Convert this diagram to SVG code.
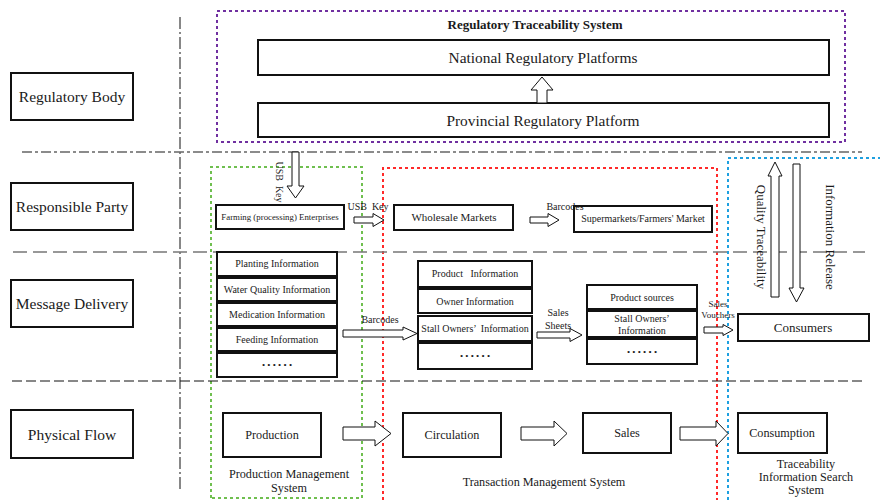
<svg xmlns="http://www.w3.org/2000/svg" width="880" height="500" viewBox="0 0 880 500" font-family="'Liberation Serif', 'DejaVu Serif', serif">
<style>
text{font-family:'Liberation Serif','DejaVu Serif',serif;fill:#1a1a1a;text-anchor:middle;white-space:pre}
.box{fill:#fff;stroke:#111;stroke-width:2}
.arr{fill:#fff;stroke:#111;stroke-width:1}
.lbl{font-size:15.5px}
.s9{font-size:9px}.s10{font-size:10px}.s11{font-size:11px}.s12{font-size:12.2px}.s13{font-size:13px}.s15{font-size:15.4px}
</style>
<rect width="880" height="500" fill="#fff"/>
<g id="containers" fill="none">
<rect x="217" y="11" width="628" height="131" stroke="#7030A0" stroke-width="2" stroke-dasharray="3,3"/>
<path d="M211 498V167H362V498Z" stroke="#6fbf4f" stroke-width="2" stroke-dasharray="3,3"/>
<path d="M383 500V168H717V500" stroke="#ff2a2a" stroke-width="2" stroke-dasharray="3,3"/>
<path d="M728 500V158H880" stroke="#1ea0e0" stroke-width="2" stroke-dasharray="3,3"/>
</g>
<g id="dividers" fill="none">
<line x1="180" y1="17" x2="180" y2="490" stroke="#111" stroke-width="1" stroke-dasharray="12,3,2,3"/>
<line x1="22" y1="152" x2="862" y2="152" stroke="#666" stroke-width="1.5" stroke-dasharray="10,3,3,3"/>
<line x1="13" y1="252" x2="865" y2="252" stroke="#777" stroke-width="1.5" stroke-dasharray="14,6"/>
<line x1="12" y1="381" x2="865" y2="381" stroke="#111" stroke-width="1" stroke-dasharray="10,4"/>
</g>
<g id="row-regulatory"><rect class="box" x="11" y="73" width="122" height="47"/><text class="lbl" x="72" y="102">Regulatory Body</text></g>
<g id="row-responsible"><rect class="box" x="11" y="183" width="122" height="47"/><text class="lbl" x="72" y="212">Responsible Party</text></g>
<g id="row-message"><rect class="box" x="11" y="280" width="122" height="47"/><text class="lbl" x="72" y="309">Message Delivery</text></g>
<g id="row-physical"><rect class="box" x="11" y="410" width="122" height="48"/><text class="lbl" x="72" y="440">Physical Flow</text></g>
<text x="535" y="29" style="font-size:13px;font-weight:bold">Regulatory Traceability System</text>
<g id="national"><rect class="box" x="258" y="40" width="571" height="35"/><text class="s15" x="543" y="63">National Regulatory Platforms</text></g>
<g id="provincial"><rect class="box" x="258" y="103" width="571" height="34"/><text class="s15" x="543" y="126">Provincial Regulatory Platform</text></g>
<g id="farming"><rect class="box" x="216" y="205" width="128" height="24"/><text x="280" y="220" style="font-size:8.8px">Farming (processing) Enterprises</text></g>
<g id="wholesale"><rect class="box" x="394" y="205" width="119" height="25"/><text class="s11" x="454" y="221">Wholesale Markets</text></g>
<g id="supermarkets"><rect class="box" x="574" y="206" width="138" height="26"/><text class="s10" x="643" y="222">Supermarkets/Farmers' Market</text></g>
<g id="production-info">
<rect class="box" x="217" y="252" width="120" height="24"/><text class="s10" x="277" y="267">Planting Information</text>
<rect class="box" x="217" y="278" width="120" height="23"/><text class="s10" x="277" y="293">Water Quality Information</text>
<rect class="box" x="217" y="303" width="120" height="23"/><text class="s10" x="277" y="318">Medication Information</text>
<rect class="box" x="217" y="328" width="120" height="23"/><text class="s10" x="277" y="343">Feeding Information</text>
<rect class="box" x="217" y="353" width="120" height="24"/><text class="s9" x="277" y="368">• • • • • •</text>
</g>
<g id="transaction-info">
<rect class="box" x="418" y="261" width="114" height="26"/><text class="s10" x="475" y="277">Product   Information</text>
<rect class="box" x="418" y="289" width="114" height="24"/><text class="s10" x="475" y="305">Owner Information</text>
<rect class="box" x="418" y="316" width="114" height="25"/><text class="s10" x="475" y="332">Stall Owners’  Information</text>
<rect class="box" x="418" y="343" width="114" height="26"/><text class="s9" x="475" y="359">• • • • • •</text>
</g>
<g id="sales-info">
<rect class="box" x="587" y="285" width="110" height="24"/><text class="s10" x="642" y="301">Product sources</text>
<rect class="box" x="587" y="311" width="110" height="26"/><text class="s10" x="642" y="322">Stall Owners’</text><text class="s10" x="642" y="334">Information</text>
<rect class="box" x="587" y="339" width="110" height="25"/><text class="s9" x="642" y="355">• • • • • •</text>
</g>
<g id="consumers"><rect class="box" x="738" y="314" width="131" height="27"/><text class="s13" x="803" y="332">Consumers</text></g>
<g id="production"><rect class="box" x="223" y="413" width="98" height="44"/><text class="s12" x="272" y="439">Production</text></g>
<g id="circulation"><rect class="box" x="403" y="413" width="98" height="44"/><text class="s12" x="452" y="439">Circulation</text></g>
<g id="sales"><rect class="box" x="583" y="413" width="88" height="40"/><text class="s12" x="627" y="437">Sales</text></g>
<g id="consumption"><rect class="box" x="738" y="413" width="89" height="40"/><text class="s12" x="782" y="437">Consumption</text></g>
<text class="s12" x="289" y="478">Production Management</text>
<text class="s12" x="289" y="492">System</text>
<text class="s12" x="544" y="486">Transaction Management System</text>
<text class="s12" x="806" y="468">Traceability</text>
<text class="s12" x="806" y="481">Information Search</text>
<text class="s12" x="806" y="494">System</text>
<g id="connectors">
<polygon class="arr" points="537,103 537,90 531,90 542,77 553,90 547,90 547,103"/>
<polygon class="arr" points="292,152 292,186 287,186 295.5,198 304,186 299,186 299,152"/>
<polygon class="arr" points="354,217 373,217 373,213.5 384,220 373,226.5 373,223 354,223"/>
<polygon class="arr" points="530,217 548,217 548,213.5 559,220 548,226.5 548,223 530,223"/>
<polygon class="arr" points="343,330 403,330 403,327 417,333.5 403,340 403,337 343,337"/>
<polygon class="arr" points="537,332 570,332 570,328.5 582,335 570,341.5 570,338 537,338"/>
<polygon class="arr" points="704,327 723,327 723,324.5 733,330 723,335.5 723,333 704,333"/>
<polygon class="arr" points="771,297 771,176 768,176 775,162 782,176 779,176 779,297"/>
<polygon class="arr" points="793,164 793,288 789,288 796.5,302 804,288 800,288 800,164"/>
<polygon class="arr" points="343,427 375,427 375,421 391,433.5 375,446 375,440 343,440"/>
<polygon class="arr" points="521,427 554,427 554,421 567,433.5 554,446 554,440 521,440"/>
<polygon class="arr" points="680,427 716,427 716,421 728,433.5 716,446 716,440 680,440"/>
</g>
<g id="connector-labels">
<text class="s10" transform="translate(276,182) rotate(90)">USB  Key</text>
<text class="s10" x="368" y="210">USB  Key</text>
<text class="s10" x="565" y="210">Barcodes</text>
<text class="s10" x="380" y="323">Barcodes</text>
<text class="s10" x="558" y="316">Sales</text>
<text class="s10" x="558" y="329">Sheets</text>
<text class="s9" x="718" y="307">Sales</text>
<text class="s9" x="718" y="318">Vouchers</text>
<text class="s13" transform="translate(757,237) rotate(90)">Quality Traceability</text>
<text class="s13" transform="translate(826,237) rotate(90)">Information Release</text>
</g>
</svg>
